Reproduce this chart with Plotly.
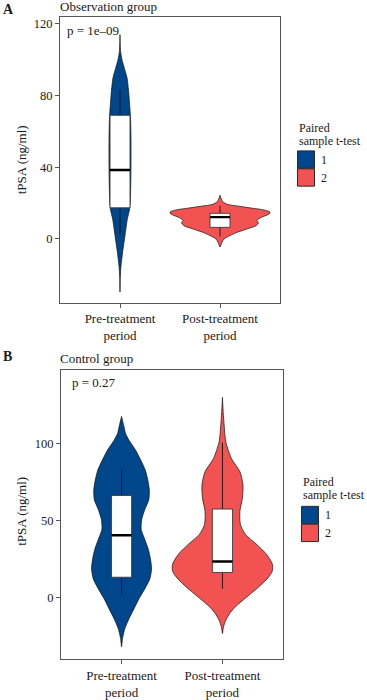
import plotly.graph_objects as go

# ---------------- data ----------------
categories = ["Pre-treatment<br>period", "Post-treatment<br>period"]
cat_pos = [1, 2]
group_labels = ["1", "2"]
colors = ["#00468B", "#F25252"]

# Observation group: violin profiles (value, half-width in category units)
obs_pre_y = [-29.6, -21, -15, -7, 2, 11, 17, 25, 40, 55, 68, 76, 83, 90, 95, 100, 105, 114]
obs_pre_w = [0, 0.003, 0.01, 0.027, 0.05, 0.073, 0.097, 0.105, 0.11, 0.11, 0.105, 0.095, 0.085, 0.07, 0.045, 0.02, 0.005, 0]
obs_post_y = [-4.5, -1.85, 0, 1.9, 3.7, 5.6, 7.4, 9.0, 10.4, 12.0, 13.9, 15.0, 16.2, 17.2, 18.2, 19.4, 21.0, 22.5, 24.5]
obs_post_w = [0, 0.02, 0.04, 0.1, 0.17, 0.27, 0.36, 0.385, 0.37, 0.41, 0.49, 0.5, 0.44, 0.32, 0.2, 0.07, 0.025, 0.012, 0]

# Control group violin profiles
ctrl_pre_y = [-32.3, -26.8, -20.4, -14.0, -7.5, -1.0, 5.4, 11.9, 18.3, 24.8, 31.2, 37.7, 44.1,
              50.6, 57.0, 63.5, 69.9, 76.4, 82.8, 89.3, 95.7, 102.2, 106.5, 110.8, 117.7]
ctrl_pre_w = [0, 0.01, 0.033, 0.074, 0.124, 0.173, 0.23, 0.28, 0.297, 0.287, 0.265, 0.23, 0.195,
              0.2, 0.23, 0.27, 0.275, 0.26, 0.235, 0.19, 0.14, 0.074, 0.04, 0.025, 0]
ctrl_post_y = [-23.6, -19.4, -15, -10.7, -6.5, 0, 6.5, 12.9, 17.2, 21.5, 28, 34.5, 40.9, 47.4,
               55.9, 64.5, 73.2, 81.7, 90.3, 101.1, 111.9, 120, 130.1]
ctrl_post_w = [0, 0.01, 0.033, 0.07, 0.124, 0.238, 0.356, 0.455, 0.495, 0.495, 0.436, 0.337, 0.228,
               0.178, 0.173, 0.198, 0.203, 0.173, 0.089, 0.033, 0.017, 0.008, 0]

# Box statistics [pre, post]
obs_q1 = [17.4, 6.5]
obs_med = [38.5, 12.2]
obs_q3 = [69.0, 14.3]
obs_lo = [2.4, 1.5]
obs_hi = [83.3, 18.5]

ctrl_q1 = [13.0, 16.1]
ctrl_med = [40.3, 23.2]
ctrl_q3 = [66.2, 57.4]
ctrl_lo = [1.1, 5.4]
ctrl_hi = [84.3, 100.5]

obs_ticks = [0, 40, 80, 120]
ctrl_ticks = [0, 50, 100]
p_labels = ["p = 1e\u201309", "p = 0.27"]
panel_titles = ["Observation group", "Control group"]
panel_letters = ["A", "B"]

# ---------------- figure ----------------
W, H = 367, 700
FONT = "Liberation Serif"
BOXW = 0.2

fig = go.Figure()


def px(x):
    return x / W


def py(y):
    return 1 - y / H


def add_violin(pos, ys, ws, color, xa, ya):
    xs = [pos + w for w in ws] + [pos - w for w in reversed(ws)]
    yy = list(ys) + list(reversed(ys))
    fig.add_trace(go.Scatter(
        x=xs, y=yy, mode="lines", fill="toself", fillcolor=color,
        line=dict(color="#111111", width=0.7, shape="spline", smoothing=0.7),
        xaxis=xa, yaxis=ya, showlegend=False, hoverinfo="skip"))


def add_box(pos, q1, med, q3, lo, hi, xa, ya):
    for a, b in ((lo, q1), (q3, hi)):
        fig.add_trace(go.Scatter(
            x=[pos, pos], y=[a, b], mode="lines", line=dict(color="#111111", width=0.9),
            xaxis=xa, yaxis=ya, showlegend=False, hoverinfo="skip"))
    l, r = pos - BOXW / 2, pos + BOXW / 2
    fig.add_trace(go.Scatter(
        x=[l, r, r, l, l], y=[q1, q1, q3, q3, q1], mode="lines", fill="toself",
        fillcolor="white", line=dict(color="#3a3a3a", width=0.9),
        xaxis=xa, yaxis=ya, showlegend=False, hoverinfo="skip"))
    fig.add_trace(go.Scatter(
        x=[l, r], y=[med, med], mode="lines",
        line=dict(color="black", width=2.4), xaxis=xa, yaxis=ya,
        showlegend=False, hoverinfo="skip"))


panels = [
    dict(xa="x", ya="y",
         viol=[(obs_pre_y, obs_pre_w), (obs_post_y, obs_post_w)],
         box=(obs_q1, obs_med, obs_q3, obs_lo, obs_hi)),
    dict(xa="x2", ya="y2",
         viol=[(ctrl_pre_y, ctrl_pre_w), (ctrl_post_y, ctrl_post_w)],
         box=(ctrl_q1, ctrl_med, ctrl_q3, ctrl_lo, ctrl_hi)),
]

for p in panels:
    for i in range(2):
        ys, ws = p["viol"][i]
        add_violin(cat_pos[i], ys, ws, colors[i], p["xa"], p["ya"])
    q1, med, q3, lo, hi = p["box"]
    for i in range(2):
        add_box(cat_pos[i], q1[i], med[i], q3[i], lo[i], hi[i], p["xa"], p["ya"])

axis_common = dict(showgrid=False, zeroline=False, showline=True, mirror=True,
                   linecolor="#555555", linewidth=1, ticks="outside", ticklen=4,
                   tickcolor="#555555", tickwidth=1)

boxA = (60, 280, 17, 305)
boxB = (61, 283, 373, 664)

fig.update_layout(
    width=W, height=H, margin=dict(l=0, r=0, t=0, b=0),
    paper_bgcolor="white", plot_bgcolor="white", showlegend=False,
    font=dict(family=FONT, color="#1a1a1a"),
    xaxis=dict(domain=[px(boxA[0]), px(boxA[1])], anchor="y", range=[0.4, 2.6],
               tickvals=cat_pos, ticktext=categories,
               tickfont=dict(size=13, family=FONT, color="#1a1a1a"), **axis_common),
    yaxis=dict(domain=[py(boxA[3]), py(boxA[2])], anchor="x", range=[-35.6, 123.9],
               tickvals=obs_ticks, tickfont=dict(size=12.5, family=FONT, color="#1a1a1a"),
               **axis_common),
    xaxis2=dict(domain=[px(boxB[0]), px(boxB[1])], anchor="y2", range=[0.4, 2.6],
                tickvals=cat_pos, ticktext=categories,
                tickfont=dict(size=13, family=FONT, color="#1a1a1a"), **axis_common),
    yaxis2=dict(domain=[py(boxB[3]), py(boxB[2])], anchor="x2", range=[-40.4, 147.7],
                tickvals=ctrl_ticks, tickfont=dict(size=12.5, family=FONT, color="#1a1a1a"),
                **axis_common),
)

ann = []


def text(x, y, s, size=13, xanchor="left", bold=False, angle=0):
    ann.append(dict(x=px(x), y=py(y), xref="paper", yref="paper", text=(f"<b>{s}</b>" if bold else s),
                    showarrow=False, xanchor=xanchor, yanchor="middle", textangle=angle,
                    borderpad=0, borderwidth=0,
                    font=dict(family=FONT, size=size, color="#1a1a1a")))


shapes = []
layouts = [
    dict(letter_y=9.5, title_y=7, p_x=67, p_y=31, ytitle_y=161,
         leg_x=297.5, leg_t1=128.5, leg_t2=142, key_top=152),
    dict(letter_y=359.5, title_y=361, p_x=71.5, p_y=385, ytitle_y=515,
         leg_x=301.5, leg_t1=485, leg_t2=499, key_top=510),
]
for k, L in enumerate(layouts):
    text(2.5, L["letter_y"], panel_letters[k], size=14, bold=True)
    text(59.5, L["title_y"], panel_titles[k], size=13)
    text(L["p_x"], L["p_y"], p_labels[k], size=13)
    text(21.5, L["ytitle_y"], "tPSA (ng/ml)", size=13, xanchor="center", angle=-90)
    text(L["leg_x"] + 1, L["leg_t1"], "Paired", size=12)
    text(L["leg_x"] + 1, L["leg_t2"], "sample t-test", size=12)
    for i in range(2):
        y0 = L["key_top"] + i * 18
        shapes.append(dict(type="rect", xref="paper", yref="paper",
                           x0=px(L["leg_x"]), x1=px(L["leg_x"] + 17),
                           y0=py(y0 + 17.5), y1=py(y0),
                           fillcolor=colors[i], line=dict(color="#2a2a2a", width=1)))
        text(L["leg_x"] + 23, y0 + 9, group_labels[i], size=12)

fig.update_layout(annotations=ann, shapes=shapes)
fig.write_html("out.html", config={"displayModeBar": False},
               post_script="document.body.style.margin='0px';document.body.style.overflow='hidden';")
